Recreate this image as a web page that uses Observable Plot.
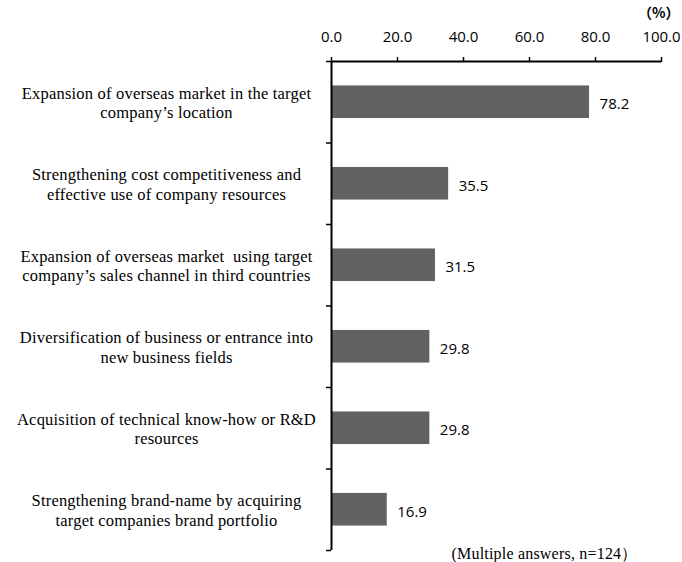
<!DOCTYPE html>
<html>
<head>
<meta charset="utf-8">
<script src="https://cdn.jsdelivr.net/npm/d3@7"></script>
<script src="https://cdn.jsdelivr.net/npm/@observablehq/plot@0.6"></script>
<style>
  html, body { margin: 0; padding: 0; background: #fff; }
  #chart { position: relative; width: 682px; height: 562px; }
  /* the serif labels are set with a slightly loose tracking */
  #chart g[font-family^="'Liberation Serif'"] text { letter-spacing: 0.2px; }
</style>
</head>
<body>
<div id="chart"></div>
<script>
// Purposes of the acquisitions (multiple answers, n=124), in %
const purposes = [
  "Expansion of overseas market in the target\ncompany\u2019s location",
  "Strengthening cost competitiveness and\neffective use of company resources",
  "Expansion of overseas market  using target\ncompany\u2019s sales channel in third countries",
  "Diversification of business or entrance into\nnew business fields",
  "Acquisition of technical know-how or R&D\nresources",
  "Strengthening brand-name by acquiring\ntarget companies brand portfolio"
];
const shares = [78.2, 35.5, 31.5, 29.8, 29.8, 16.9];
const xTicks = [0, 20, 40, 60, 80, 100];
const unitLabel = "\uff08%\uff09";
const note = "(Multiple answers, n=124\uff09";

const rows = purposes.map((label, i) => ({label, value: shares[i], row: i}));
const rowEdges = d3.range(0, purposes.length + 1);

const sans = "'Open Sans', Lato, sans-serif";
const serif = "'Liberation Serif', 'Times New Roman', serif";

const chart = Plot.plot({
  width: 682,
  height: 562,
  marginTop: 61,
  marginBottom: 12,
  marginLeft: 331,
  marginRight: 21,
  style: {fontFamily: sans, fontSize: "14px", color: "#000", background: "#fff"},
  x: {domain: [0, 100], axis: null},
  y: {domain: [0, purposes.length], reverse: true, axis: null},
  marks: [
    Plot.rectX(rows, {
      x1: 0,
      x2: "value",
      y1: d => d.row + 0.3,
      y2: d => d.row + 0.7,
      fill: "#626262"
    }),
    Plot.text(rows, {
      x: "value",
      y: d => d.row + 0.5,
      text: d => d.value.toFixed(1),
      textAnchor: "start",
      dx: 10,
      dy: 2,
      fontFamily: sans,
      fontSize: 15,
      fill: "#000"
    }),
    Plot.text(rows, {
      y: d => d.row + 0.5,
      text: "label",
      frameAnchor: "left",
      dx: -165,
      dy: 0,
      textAnchor: "middle",
      lineHeight: 1.2,
      fontFamily: serif,
      fontSize: 16.5,
      fill: "#000"
    }),
    Plot.axisX({
      anchor: "top",
      label: null,
      ticks: xTicks,
      tickFormat: d3.format(".1f"),
      tickSize: 5,
      tickPadding: 15,
      strokeWidth: 1.5,
      fontFamily: sans,
      fontSize: 15
    }),
    Plot.axisY({
      anchor: "left",
      label: null,
      ticks: rowEdges,
      tickSize: 5,
      tickFormat: () => "",
      strokeWidth: 1.5
    }),
    Plot.ruleY([0], {stroke: "#000", strokeWidth: 2}),
    Plot.ruleX([0], {stroke: "#000", strokeWidth: 2}),
    Plot.text([unitLabel], {
      frameAnchor: "top-right",
      dx: 18,
      dy: -53,
      text: d => d,
      textAnchor: "end",
      fontFamily: "'Noto Sans CJK JP', sans-serif",
      fontWeight: "bold",
      fontSize: 14,
      fill: "#000"
    }),
    Plot.text([note], {
      frameAnchor: "bottom-right",
      dx: -24,
      dy: 3,
      text: d => d,
      textAnchor: "end",
      lineAnchor: "middle",
      fontFamily: serif,
      fontSize: 16,
      fill: "#000"
    })
  ]
});

document.getElementById("chart").append(chart);
</script>
</body>
</html>
